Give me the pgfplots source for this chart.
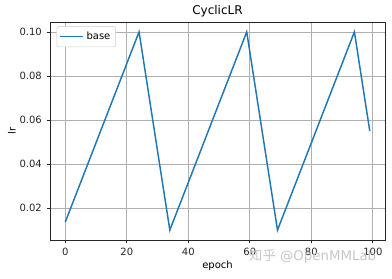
\documentclass[border=0pt]{standalone}
\usepackage{pgfplots}
\pgfplotsset{compat=1.18}
\usepackage{fontspec}
\setmainfont{DejaVu Sans}
\newfontfamily\cjk{Noto Sans CJK SC}
\definecolor{mplblue}{HTML}{1F77B4}
\definecolor{mplgrid}{HTML}{B0B0B0}
\begin{document}
\begin{tikzpicture}
\useasboundingbox (-37.5pt,-28.5pt) rectangle (256.5pt,180pt);
\begin{axis}[
  at={(0,0)}, anchor=south west,
  scale only axis,
  width=251.25pt, height=163.5pt,
  xmin=-4.95, xmax=103.95,
  ymin=0.0055, ymax=0.1045,
  xtick={0,20,40,60,80,100},
  ytick={0.02,0.04,0.06,0.08,0.10},
  yticklabel style={/pgf/number format/.cd,fixed,fixed zerofill,precision=2},
  /pgf/number format/assume math mode=true,
  scaled y ticks=false,
  tick align=outside,
  tick pos=left,
  major tick length=2.6pt,
  grid=major,
  grid style={mplgrid, line width=0.6pt},
  axis line style={line width=0.6pt, black!85},
  tick style={line width=0.6pt, black!85},
  font=\fontsize{7.5}{9}\selectfont,
  ticklabel style={font=\fontsize{7.5}{9}\selectfont, text=black!85},
  title={CyclicLR},
  title style={font=\fontsize{9}{11}\selectfont, yshift=-5.5pt},
  xlabel={epoch}, ylabel={lr},
  xlabel style={yshift=3pt},
  ylabel style={yshift=-4pt},
  legend style={font=\fontsize{7.5}{9}\selectfont, draw=black!20, rounded corners=1.5pt, fill=white, inner sep=2pt, at={(0.02,0.98)}, anchor=north west},
  legend cell align=left,
  legend image code/.code={\draw[#1] (0cm,0cm) -- (0.6cm,0cm);},
]
\addplot[mplblue, line width=1.1pt] coordinates {
(0,0.0136) (24,0.1) (34,0.01) (59,0.1) (69,0.01) (94,0.1) (99,0.055)
};
\addlegendentry{base}
\end{axis}
\node[anchor=center, text=black!22, font=\fontsize{10}{12}\selectfont] at (197pt,-12pt) {{\cjk 知乎} @OpenMMLab};
\end{tikzpicture}
\end{document}
